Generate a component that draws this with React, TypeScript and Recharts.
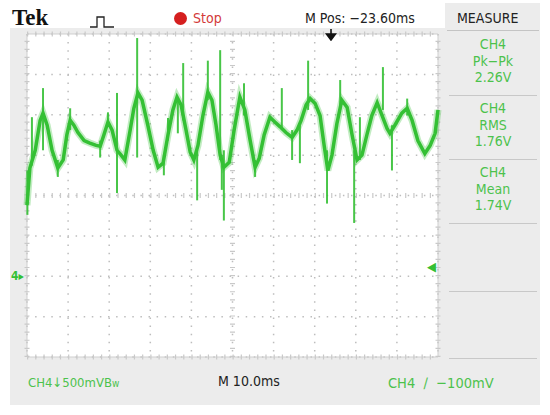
import React from "react";
import {
  ComposedChart,
  Line,
  Scatter,
  ErrorBar,
  XAxis,
  YAxis,
  CartesianGrid,
  ReferenceLine,
  ReferenceArea,
} from "recharts";

// 10 ms per division, 500 mV per division
const timeTicks = [0, 10, 20, 30, 40, 50, 60, 70, 80, 90, 100];
const voltTicks = [-1, -0.5, 0, 0.5, 1, 1.5, 2, 2.5, 3];

// CH4 trace: [ms, V]
const trace: [number, number][] = [
  [0, 0.88], [0.7, 1.34], [2.0, 1.56], [3.2, 1.93], [3.9, 2.02], [4.9, 1.87],
  [6.1, 1.56], [7.5, 1.34], [8.8, 1.44], [9.7, 1.75], [10.5, 1.93], [11.4, 1.87],
  [12.4, 1.78], [13.9, 1.68], [15.3, 1.65], [16.8, 1.62], [17.8, 1.61], [18.7, 1.75],
  [19.7, 1.91], [20.7, 1.81], [21.9, 1.56], [22.9, 1.5], [23.8, 1.44], [25.1, 1.81],
  [26.0, 2.08], [27.0, 2.27], [28.0, 2.18], [29.4, 1.87], [30.7, 1.56], [31.9, 1.35],
  [33.1, 1.4], [34.3, 1.75], [35.5, 2.06], [36.5, 2.22], [37.5, 2.12], [38.7, 1.81],
  [39.7, 1.54], [40.6, 1.44], [41.6, 1.62], [42.8, 1.99], [44.0, 2.28], [45.0, 2.18],
  [46.0, 1.87], [47.0, 1.5], [47.9, 1.35], [49.2, 1.41], [50.4, 1.81], [51.8, 2.22],
  [53.0, 2.06], [54.3, 1.68], [55.5, 1.35], [56.5, 1.46], [57.7, 1.75], [59.1, 1.97],
  [60.3, 1.91], [61.6, 1.85], [63.0, 1.78], [64.5, 1.72], [65.7, 1.81], [66.7, 1.93],
  [67.9, 2.12], [68.9, 2.2], [70.1, 2.14], [71.3, 1.99], [72.3, 1.62], [73.2, 1.31],
  [74.2, 1.5], [75.4, 1.89], [76.6, 2.18], [77.9, 2.09], [79.1, 1.75], [80.3, 1.44],
  [81.5, 1.5], [82.7, 1.75], [83.9, 1.99], [85.2, 2.15], [86.4, 1.99], [87.6, 1.83],
  [88.3, 1.77], [89.5, 1.87], [91.2, 2.02], [92.5, 2.08], [93.7, 1.93], [95.1, 1.68],
  [96.8, 1.52], [98.1, 1.62], [99.3, 1.77], [100, 2.06],
];

// glitches on the trace: [ms, low V, high V]
const spikes: [number, number, number][] = [
  [0.1, 0.76, 1.31], [1.2, 1.37, 1.97], [3.9, 1.56, 2.33], [7.5, 1.23, 1.44],
  [10.5, 1.81, 2.08], [17.8, 1.47, 1.68], [19.7, 1.87, 2.03], [21.9, 1.03, 2.27],
  [26.8, 1.47, 2.95], [33.3, 1.25, 1.5], [34.3, 1.68, 1.96], [36.7, 1.77, 2.22],
  [38.0, 1.93, 2.64], [41.4, 0.94, 1.56], [44.0, 2.18, 2.67], [47.0, 1.44, 2.8],
  [47.4, 1.07, 1.5], [47.9, 0.69, 1.56], [52.8, 1.99, 2.39], [55.5, 1.23, 1.44],
  [62.0, 1.81, 2.33], [64.5, 1.44, 1.81], [66.4, 1.4, 1.87], [68.4, 2.06, 2.67],
  [73.0, 0.9, 1.56], [76.2, 2.06, 2.43], [79.6, 0.66, 1.56], [81.0, 1.44, 1.97],
  [86.6, 2.06, 2.59], [88.8, 1.31, 1.87], [92.5, 1.99, 2.2],
];

const measures = [
  { ch: "CH4", name: "Pk\u2212Pk", value: "2.26V" },
  { ch: "CH4", name: "RMS", value: "1.76V" },
  { ch: "CH4", name: "Mean", value: "1.74V" },
];

const traceRows = trace.map(([t, v]) => ({ t, v }));
const spikeRows = spikes.map(([t, lo, hi]) => ({ t, v: lo, err: [0, hi - lo] }));

const GREEN = "#34c034";
const TEXT_GREEN = "#4cc24c";
const NARROW = "'Liberation Sans Narrow', 'DejaVu Sans Condensed', 'Liberation Sans', sans-serif";

const label = (left: number, top: number, extra: React.CSSProperties = {}) => ({
  position: "absolute" as const,
  left,
  top,
  fontFamily: NARROW,
  fontSize: 14,
  lineHeight: "16px",
  whiteSpace: "nowrap" as const,
  ...extra,
});

export default function App() {
  return (
    <div
      style={{
        position: "absolute",
        left: 0,
        top: 0,
        width: 550,
        height: 415,
        background: "#fff",
        overflow: "hidden",
      }}
    >
      {/* scope bezel */}
      <div style={{ position: "absolute", left: 10, top: 28, width: 530, height: 377, background: "#ececec" }} />
      <div style={{ position: "absolute", left: 445, top: 3, width: 95, height: 26, background: "#ececec" }} />

      <div style={{ position: "absolute", left: 0, top: 0 }}>
        <ComposedChart
          width={550}
          height={415}
          data={traceRows}
          margin={{ top: 34, right: 112, bottom: 58, left: 27 }}
        >
          <XAxis type="number" dataKey="t" domain={[0, 100]} ticks={timeTicks} hide />
          <YAxis type="number" domain={[-1, 3]} ticks={voltTicks} hide allowDataOverflow />
          <CartesianGrid fill="#fff" stroke="#bdbdbd" strokeWidth={1.5} strokeDasharray="1.5 6.6" />
          <ReferenceLine x={50} stroke="#c9c9c9" strokeWidth={5} strokeDasharray="1.2 6.88" />
          <ReferenceLine y={1} stroke="#c9c9c9" strokeWidth={5} strokeDasharray="1.2 7.02" />
          <ReferenceLine x={0} stroke="#c9c9c9" strokeWidth={5} strokeDasharray="1.2 6.88" />
          <ReferenceLine x={100} stroke="#c9c9c9" strokeWidth={5} strokeDasharray="1.2 6.88" />
          <ReferenceLine y={-1} stroke="#c9c9c9" strokeWidth={5} strokeDasharray="1.2 7.02" />
          <ReferenceLine y={3} stroke="#c9c9c9" strokeWidth={5} strokeDasharray="1.2 7.02" />
          <ReferenceArea x1={0} x2={100} y1={-1} y2={3} fill="none" stroke="#cfcfcf" strokeWidth={1} />
          <Scatter data={spikeRows} dataKey="v" shape={() => <g />} isAnimationActive={false}>
            <ErrorBar dataKey="err" direction="y" width={0} stroke={GREEN} strokeWidth={2} strokeOpacity={0.9} />
          </Scatter>
          <Line
            type="linear"
            dataKey="v"
            stroke={GREEN}
            strokeOpacity={0.3}
            strokeWidth={7}
            dot={false}
            isAnimationActive={false}
          />
          <Line
            type="linear"
            dataKey="v"
            stroke={GREEN}
            strokeWidth={3.5}
            dot={false}
            isAnimationActive={false}
          />
        </ComposedChart>
      </div>

      {/* header */}
      <div style={label(12, 4, { fontFamily: "'Liberation Serif', 'DejaVu Serif', serif", fontWeight: 700, fontSize: 23, lineHeight: "28px", color: "#111" })}>
        Tek
      </div>
      <svg style={{ position: "absolute", left: 90, top: 15 }} width={26} height={14}>
        <path d="M0 12 H7 V2 H14 V12 H24" fill="none" stroke="#222" strokeWidth={1.3} />
      </svg>
      <div style={{ position: "absolute", left: 174, top: 12, width: 13, height: 13, borderRadius: "50%", background: "#d51f1f" }} />
      <div style={label(193, 10, { color: "#d33a3a" })}>Stop</div>
      <div style={label(305, 10, { color: "#222" })}>M Pos: &minus;23.60ms</div>
      <div style={label(457, 10, { color: "#222" })}>MEASURE</div>
      <svg style={{ position: "absolute", left: 325, top: 29 }} width={12} height={12}>
        <path d="M6 0 V6 M1.5 5 L6 11 L10.5 5 Z" fill="#111" stroke="#111" strokeWidth={1.6} />
      </svg>

      {/* measurement panel */}
      <div style={{ position: "absolute", left: 447, top: 30, width: 92, height: 1, background: "#c4c4c4" }} />
      {measures.map((m, i) => (
        <div
          key={i}
          style={{
            position: "absolute",
            left: 445,
            top: 36 + i * 64,
            width: 96,
            textAlign: "center",
            fontFamily: NARROW,
            fontSize: 14,
            lineHeight: "16.5px",
            color: TEXT_GREEN,
          }}
        >
          <div>{m.ch}</div>
          <div>{m.name}</div>
          <div>{m.value}</div>
        </div>
      ))}
      {[95, 159, 223, 291, 358].map((y) => (
        <div key={y} style={{ position: "absolute", left: 449, top: y, width: 88, height: 1, background: "#c8c8c8" }} />
      ))}

      {/* markers */}
      <div style={label(11, 268, { color: GREEN, fontSize: 12, fontWeight: 700 })}>4&#9656;</div>
      <div style={label(427, 259, { color: GREEN, fontSize: 13, fontWeight: 700 })}>&#9664;</div>

      {/* footer */}
      <div style={label(28, 375, { color: TEXT_GREEN, fontSize: 13 })}>
        CH4&#8595;500mVB<span style={{ fontSize: 10 }}>w</span>
      </div>
      <div style={label(218, 373, { color: "#222" })}>M 10.0ms</div>
      <div style={label(388, 375, { color: TEXT_GREEN, fontSize: 14.5 })}>CH4&nbsp;&nbsp;&#8725;&nbsp;&nbsp;&minus;100mV</div>
    </div>
  );
}
